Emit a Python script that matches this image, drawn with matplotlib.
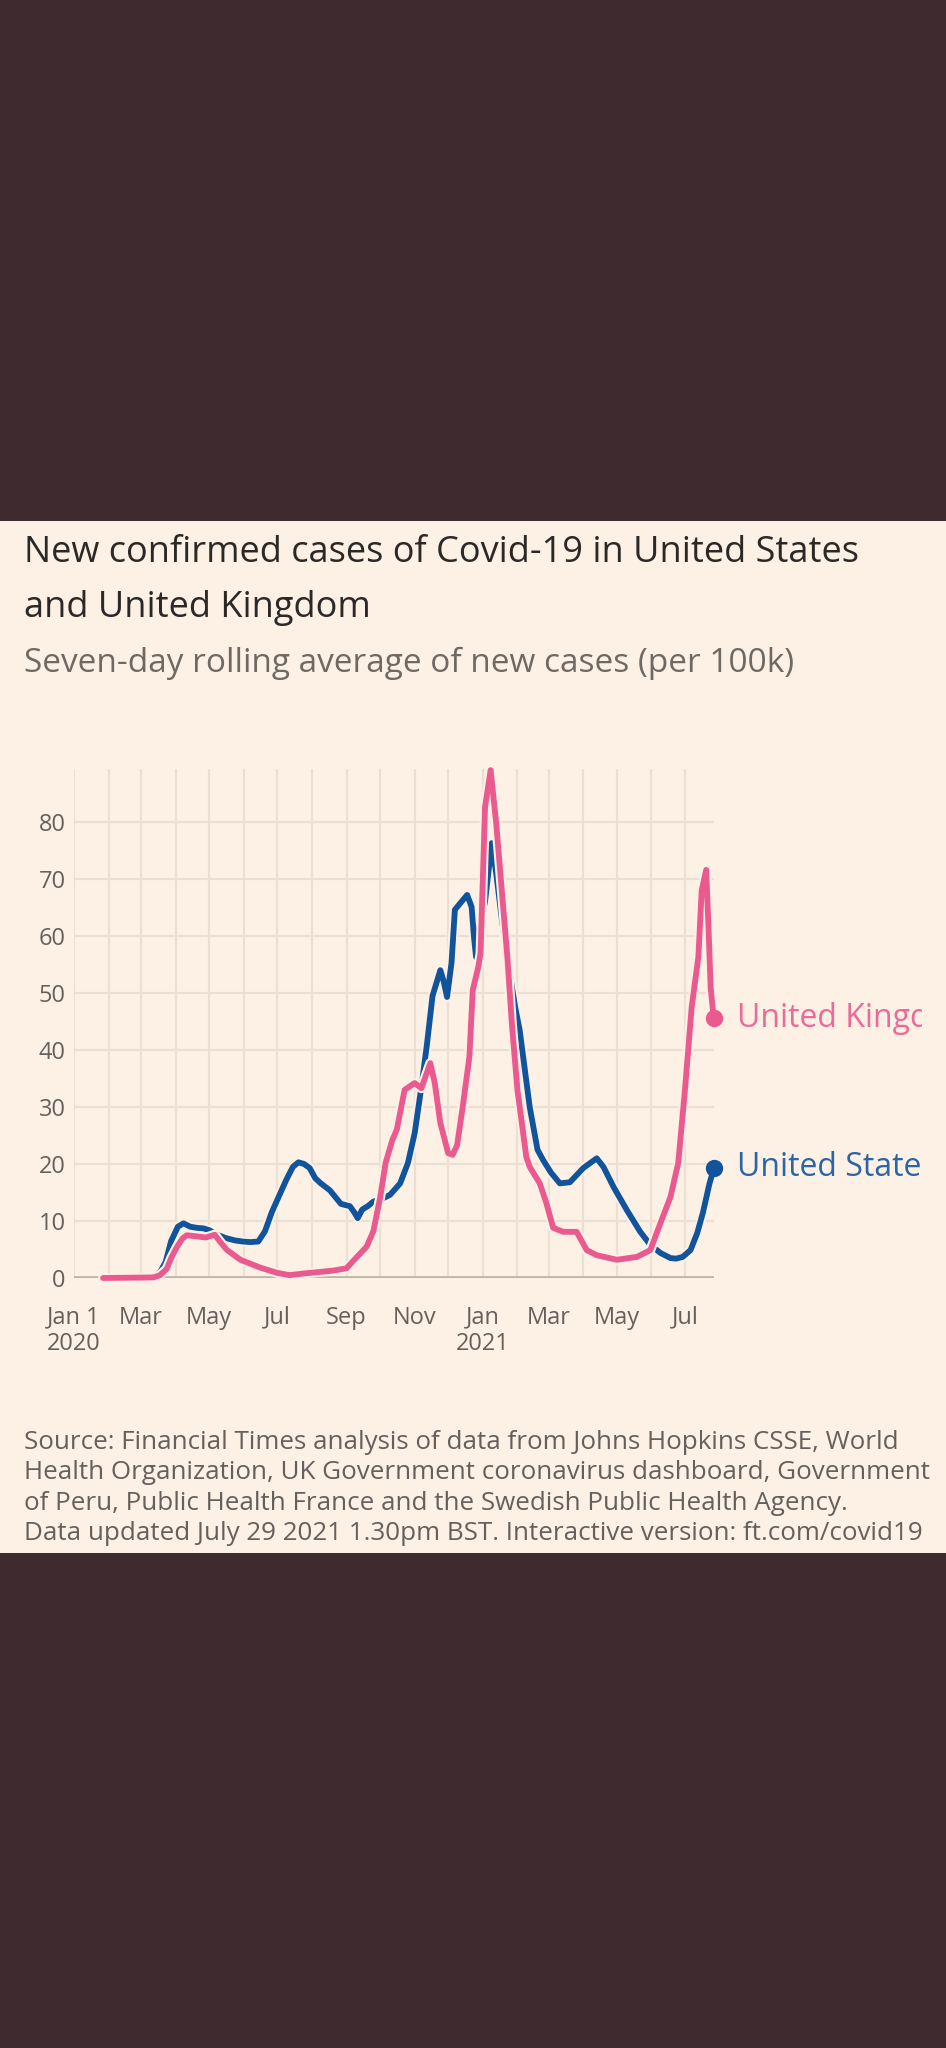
import matplotlib
matplotlib.use('Agg')
import matplotlib.pyplot as plt
import matplotlib.patheffects as pe
import pandas as pd
from matplotlib.patches import Rectangle
from matplotlib.transforms import Bbox, TransformedBbox

# --- data (7-day average of new cases per 100k) ---
us_dates = ['2020-01-27', '2020-03-05', '2020-03-12', '2020-03-18', '2020-03-23', '2020-03-28',
            '2020-04-03', '2020-04-08', '2020-04-14', '2020-04-20', '2020-04-26', '2020-05-01',
            '2020-05-08', '2020-05-16', '2020-05-24', '2020-05-31', '2020-06-07', '2020-06-14',
            '2020-06-20', '2020-06-26', '2020-07-01', '2020-07-09', '2020-07-15', '2020-07-20',
            '2020-07-25', '2020-07-30', '2020-08-04', '2020-08-09', '2020-08-17', '2020-08-22',
            '2020-08-27', '2020-09-04', '2020-09-08', '2020-09-11', '2020-09-15', '2020-09-20',
            '2020-09-25', '2020-10-03', '2020-10-10', '2020-10-19', '2020-10-26', '2020-11-01',
            '2020-11-07', '2020-11-12', '2020-11-17', '2020-11-24', '2020-11-27', '2020-11-30',
            '2020-12-04', '2020-12-07', '2020-12-12', '2020-12-18', '2020-12-22', '2020-12-24',
            '2020-12-26', '2020-12-29', '2021-01-03', '2021-01-09', '2021-01-13', '2021-01-18',
            '2021-01-23', '2021-01-30', '2021-02-03', '2021-02-12', '2021-02-19', '2021-02-24',
            '2021-03-03', '2021-03-11', '2021-03-20', '2021-04-01', '2021-04-13', '2021-04-19',
            '2021-04-28', '2021-05-10', '2021-05-22', '2021-05-31', '2021-06-09', '2021-06-18',
            '2021-06-23', '2021-06-29', '2021-07-06', '2021-07-12', '2021-07-17', '2021-07-23',
            '2021-07-27']
us_cases = [0, 0, 0.2, 1.0, 2.8, 6.5,
            9.0, 9.6, 9.0, 8.8, 8.7, 8.4,
            7.6, 7.0, 6.6, 6.4, 6.3, 6.4,
            8.2, 11.5, 13.7, 17.2, 19.5, 20.3,
            20.0, 19.3, 17.5, 16.6, 15.4, 14.2,
            13.0, 12.6, 11.5, 10.5, 12.0, 12.6,
            13.4, 13.9, 14.6, 16.6, 20.2, 25.4,
            33.5, 41.0, 49.5, 54.0, 52.0, 49.3,
            55.3, 64.6, 65.8, 67.2, 65.1, 60.0,
            56.3, 61.6, 66.0, 76.3, 71.0, 63.0,
            56.0, 47.5, 43.5, 30.0, 22.5, 20.7,
            18.5, 16.6, 16.8, 19.3, 21.0, 19.5,
            16.0, 11.9, 8.1, 5.8, 4.4, 3.5,
            3.4, 3.7, 4.9, 7.9, 11.4, 16.6,
            19.3]

uk_dates = ['2020-01-27', '2020-03-12', '2020-03-18', '2020-03-24', '2020-03-28', '2020-04-02',
            '2020-04-07', '2020-04-11', '2020-04-20', '2020-04-28', '2020-05-06', '2020-05-11',
            '2020-05-17', '2020-05-29', '2020-06-16', '2020-07-01', '2020-07-12', '2020-07-25',
            '2020-08-05', '2020-08-20', '2020-09-01', '2020-09-07', '2020-09-19', '2020-09-25',
            '2020-10-01', '2020-10-06', '2020-10-12', '2020-10-16', '2020-10-23', '2020-11-01',
            '2020-11-07', '2020-11-15', '2020-11-19', '2020-11-24', '2020-12-01', '2020-12-05',
            '2020-12-09', '2020-12-14', '2020-12-20', '2020-12-23', '2020-12-28', '2020-12-30',
            '2021-01-03', '2021-01-08', '2021-01-13', '2021-01-18', '2021-01-23', '2021-01-27',
            '2021-02-01', '2021-02-09', '2021-02-12', '2021-02-21', '2021-02-27', '2021-03-05',
            '2021-03-14', '2021-03-26', '2021-04-04', '2021-04-13', '2021-05-01', '2021-05-19',
            '2021-05-31', '2021-06-09', '2021-06-18', '2021-06-25', '2021-07-01', '2021-07-07',
            '2021-07-13', '2021-07-16', '2021-07-20', '2021-07-22', '2021-07-24', '2021-07-26',
            '2021-07-27']
uk_cases = [0, 0.1, 0.5, 1.6, 3.5, 5.4,
            6.9, 7.5, 7.3, 7.1, 7.6, 6.3,
            4.9, 3.2, 1.8, 0.9, 0.5, 0.8,
            1.0, 1.3, 1.7, 3.0, 5.5, 8.2,
            14.0, 20.2, 24.2, 26.0, 33.0, 34.2,
            33.3, 37.7, 34.2, 27.2, 21.9, 21.6,
            23.3, 30.0, 38.8, 50.5, 54.6, 57.0,
            82.6, 89.1, 79.8, 68.0, 56.3, 44.7,
            33.0, 21.2, 19.5, 16.6, 13.1, 8.8,
            8.1, 8.1, 4.9, 4.0, 3.2, 3.7,
            4.9, 9.6, 14.2, 20.2, 33.0, 47.5,
            56.3, 68.0, 71.6, 62.0, 51.0, 47.0,
            45.6]

xtick_dates = ['2020-01-01', '2020-03-01', '2020-05-01', '2020-07-01', '2020-09-01', '2020-11-01',
               '2021-01-01', '2021-03-01', '2021-05-01', '2021-07-01']
xtick_labels = ['Jan 1\n2020', 'Mar', 'May', 'Jul', 'Sep', 'Nov', 'Jan\n2021', 'Mar', 'May', 'Jul']
yticks = [0, 10, 20, 30, 40, 50, 60, 70, 80]

title_lines = ['New confirmed cases of Covid-19 in United States', 'and United Kingdom']
subtitle = 'Seven-day rolling average of new cases (per 100k)'
source_lines = ['Source: Financial Times analysis of data from Johns Hopkins CSSE, World',
                'Health Organization, UK Government coronavirus dashboard, Government',
                'of Peru, Public Health France and the Swedish Public Health Agency.',
                'Data updated July 29 2021 1.30pm BST. Interactive version: ft.com/covid19']

# --- style ---
DARK = '#3f2a30'
PAPER = '#fdf1e6'
PINK = '#ea5a8e'
BLUE = '#11549b'
GRID = '#ebdfd3'
ZERO = '#bcb2a8'
GREY = '#66605c'
FONT = ['Open Sans', 'DejaVu Sans']
plt.rcParams['font.family'] = FONT

W, H = 946, 2048
fig = plt.figure(figsize=(W / 100, H / 100), dpi=100, facecolor=DARK)
fig.patches.append(Rectangle((0, 1 - 1553 / H), 1, (1553 - 521) / H,
                             transform=fig.transFigure, facecolor=PAPER, edgecolor='none', zorder=-5))

ax = fig.add_axes([74 / W, 1 - 1278 / H, (714 - 74) / W, (1278 - 769) / H])
ax.set_facecolor('none')

us_x = pd.to_datetime(us_dates)
uk_x = pd.to_datetime(uk_dates)
LW = 4.2
halo = [pe.withStroke(linewidth=LW + 3, foreground=PAPER)]

ax.axhline(0, color=ZERO, lw=2.6, zorder=2)
ax.plot(us_x, us_cases, color=BLUE, lw=LW, solid_capstyle='round', solid_joinstyle='round',
        path_effects=halo, clip_on=False, zorder=3)
ax.plot(uk_x, uk_cases, color=PINK, lw=LW, solid_capstyle='round', solid_joinstyle='round',
        path_effects=halo, clip_on=False, zorder=4)
ax.plot(us_x[-1:], us_cases[-1:], 'o', color=BLUE, ms=12.5, mew=0, clip_on=False, zorder=5)
ax.plot(uk_x[-1:], uk_cases[-1:], 'o', color=PINK, ms=12.5, mew=0, clip_on=False, zorder=5)

ax.set_xlim(pd.Timestamp('2020-01-01'), uk_x[-1])
ax.set_ylim(0, 89.3)
ax.set_yticks(yticks)
ax.set_yticklabels([str(v) for v in yticks])
ax.set_xticks(pd.to_datetime(xtick_dates))
ax.set_xticklabels(xtick_labels, linespacing=1.15)
ax.set_xticks(pd.date_range('2020-01-01', '2021-07-01', freq='MS'), minor=True)
ax.grid(True, which='both', axis='x', color=GRID, lw=1.6, zorder=1)
ax.grid(True, which='major', axis='y', color=GRID, lw=1.6, zorder=1)
ax.set_axisbelow(True)
ax.tick_params(axis='both', which='both', length=0, labelsize=17, labelcolor=GREY)
ax.tick_params(axis='y', pad=6)
ax.tick_params(axis='x', pad=20)
for s in ax.spines.values():
    s.set_visible(False)

clip = TransformedBbox(Bbox([[0, 0], [922 / W, 1]]), fig.transFigure)
for x, y, name, col in [(uk_x[-1], uk_cases[-1], 'United Kingdom', '#eb6a99'),
                        (us_x[-1], us_cases[-1], 'United States', '#2c64a6')]:
    t = ax.annotate(name, (x, y), xytext=(16.5, 0), textcoords='offset points',
                    va='center', ha='left', fontsize=23, color=col, annotation_clip=False)
    t.set_clip_box(clip)
    t.set_clip_on(True)

# --- titles and source, sized to the widths measured on the reference ---
renderer = fig.canvas.get_renderer()


def fit(txt, target):
    for _ in range(3):
        w = txt.get_window_extent(renderer).width
        txt.set_fontsize(txt.get_fontsize() * target / w)
    return txt.get_fontsize()


x0 = 23.5 / W
t1 = fig.text(x0, 1 - 562 / H, title_lines[0], fontsize=24, color='#2b2826', va='baseline')
size = fit(t1, 832)
fig.text(x0, 1 - 617 / H, title_lines[1], fontsize=size, color='#2b2826', va='baseline')
st = fig.text(x0, 1 - 672 / H, subtitle, fontsize=20, color='#6f6964', va='baseline')
fit(st, 769)

src = fig.text(x0, 1 - 1540 / H, source_lines[3], fontsize=16, color=GREY, va='baseline')
src_size = fit(src, 898)
for i, line in enumerate(source_lines[:3]):
    fig.text(x0, 1 - (1449 + 30.3 * i) / H, line, fontsize=src_size, color=GREY, va='baseline')

fig.savefig('out.png', dpi=100, facecolor=DARK)
